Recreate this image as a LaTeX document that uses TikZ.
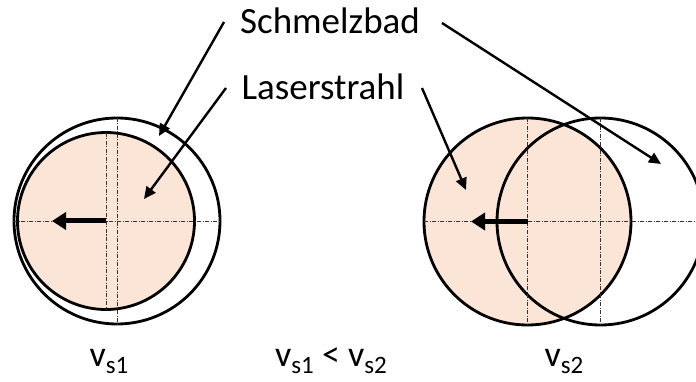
\documentclass[tikz,border=0pt]{standalone}
\usepackage{fontspec}
\setmainfont{Carlito}
\usetikzlibrary{arrows.meta}
\definecolor{laser}{HTML}{FBE5D6}
\newcommand{\vsub}[1]{v\raisebox{-0.22em}{\fontsize{25}{28}\selectfont #1}}
\begin{document}
\begin{tikzpicture}[x=1pt,y=-1pt,
  lbl/.style={font=\fontsize{37}{40}\selectfont, anchor=base, inner sep=0pt},
  vlbl/.style={font=\fontsize{36}{40}\selectfont, anchor=base, inner sep=0pt},
  ring/.style={draw=black, line width=2.8pt},
  axis/.style={draw=black!80, line width=0.7pt, dash pattern=on 4pt off 1.5pt on 1pt off 1.5pt},
  pointer/.style={draw=black, line width=2.4pt, -{Triangle[length=12pt,width=11pt]}},
  motion/.style={draw=black, line width=5pt, -{Triangle[length=14pt,width=17pt]}}]
\useasboundingbox (0,0) rectangle (696,382);
% left: low speed
\coordinate (LP) at (117,221);
\coordinate (LL) at (106,221);
\draw[ring, fill=white] (LP) circle (103);
\draw[ring, fill=laser] (LL) circle (88.5);
\draw[axis] (117,118) -- (117,324);
\draw[axis] (106,133) -- (106,310);
\draw[axis] (13,221) -- (220,221);
\coordinate (LA) at (52,221);
\draw[motion] (LL) -- (LA);
% right: high speed
\coordinate (RL) at (527.5,221.5);
\coordinate (RP) at (600.5,221.5);
\draw[ring, fill=laser] (RL) circle (103.5);
\draw[ring] (RP) circle (103.5);
\draw[axis] (527.5,118) -- (527.5,325);
\draw[axis] (600.5,118) -- (600.5,325);
\draw[axis] (424,221.5) -- (696,221.5);
\coordinate (RA) at (471,221.5);
\draw[motion] (RL) -- (RA);
% labels
\node[lbl] (schmelz) at (330,34) {Schmelzbad};
\node[lbl] (laser) at (323,100) {Laserstrahl};
\coordinate (s1) at (224,22);
\coordinate (s2) at (442,23);
\coordinate (l1) at (226,88);
\coordinate (l2) at (422,88);
\coordinate (st1) at (159,136);
\coordinate (st2) at (661,164);
\coordinate (lt1) at (144,199);
\coordinate (lt2) at (466,190);
\draw[pointer] (s1) -- (st1);
\draw[pointer] (s2) -- (st2);
\draw[pointer] (l1) -- (lt1);
\draw[pointer] (l2) -- (lt2);
\node[vlbl] (v1) at (109,366) {\vsub{s1}};
\node[vlbl] (vcmp) at (331,366) {\vsub{s1} < \vsub{s2}};
\node[vlbl] (v2) at (564,366) {\vsub{s2}};
\end{tikzpicture}
\end{document}
